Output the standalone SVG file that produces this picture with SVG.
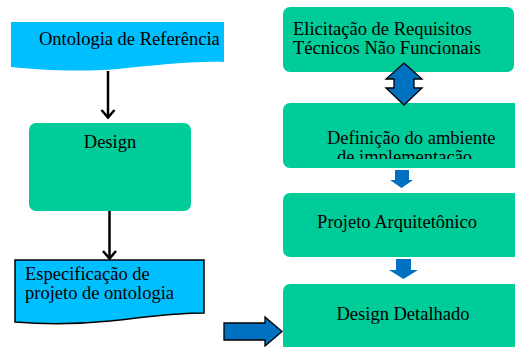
<svg xmlns="http://www.w3.org/2000/svg" width="515" height="347" viewBox="0 0 515 347">
<defs>
<style>
.t{font-family:"Liberation Serif","Times New Roman",serif;font-size:18.5px;fill:#000}
.g{fill:#00CC99}
.c{fill:#00BFFF}
.b{fill:#0070C0}
.bs{fill:#0070C0;stroke:#000;stroke-width:1.3;stroke-linejoin:miter}
.ln{fill:none;stroke:#000;stroke-width:2.5}
</style>
<clipPath id="clip2"><rect x="283" y="103" width="232" height="56"/></clipPath>
</defs>
<rect width="515" height="347" fill="#fff"/>
<g id="ontologia-referencia">
<path class="c" d="M11,22 H224 V62 C190,61 150,66 118,69 C80,72 40,70 11,67 Z"/>
<text class="t" x="39" y="45">Ontologia de Referência</text>
</g>
<g id="design">
<rect class="g" x="29" y="123" width="162" height="88" rx="7"/>
<text class="t" x="110" y="148" text-anchor="middle">Design</text>
</g>
<g id="especificacao">
<path class="c" d="M15,260 H204 V313 C170,313 140,318 110,321 C70,325 40,324 15,322 Z" stroke="#000" stroke-width="1.5"/>
<text class="t" x="25" y="280">Especificação de</text>
<text class="t" x="25" y="299">projeto de ontologia</text>
</g>
<g id="elicitacao">
<rect class="g" x="283" y="7" width="231" height="65" rx="7"/>
<text class="t" x="293" y="35">Elicitação de Requisitos</text>
<text class="t" x="293" y="54">Técnicos Não Funcionais</text>
</g>
<g id="definicao">
<rect class="g" x="283" y="103" width="240" height="65" rx="7"/>
<g clip-path="url(#clip2)">
<text class="t" x="327" y="144">Definição do ambiente</text>
<text class="t" x="337" y="163">de implementação</text>
</g>
</g>
<g id="projeto-arquitetonico">
<rect class="g" x="283" y="193" width="240" height="64" rx="7"/>
<text class="t" x="397" y="228" text-anchor="middle">Projeto Arquitetônico</text>
</g>
<g id="design-detalhado">
<rect class="g" x="283" y="284" width="240" height="80" rx="7"/>
<text class="t" x="403" y="320" text-anchor="middle">Design Detalhado</text>
</g>
<g id="connectors">
<line class="ln" x1="108" y1="71" x2="108" y2="117"/>
<polyline class="ln" points="101.5,110 108,117.5 114.5,110"/>
<line class="ln" x1="109.5" y1="211" x2="109.5" y2="258"/>
<polyline class="ln" points="103,251 109.5,258.5 116,251"/>
<polygon class="bs" points="404,63 422,79 414,79 414,88 422,88 404,105 386,88 394,88 394,79 386,79"/>
<polygon class="b" points="395,170 409,170 409,180 413,180 401.5,188 390,180 395,180"/>
<polygon class="b" points="396,259 411,259 411,270 418,270 403.5,279 389,270 396,270"/>
<polygon class="bs" points="224,323 265,323 265,317 282,331.5 265,346 265,340 224,340"/>
</g>
</svg>
